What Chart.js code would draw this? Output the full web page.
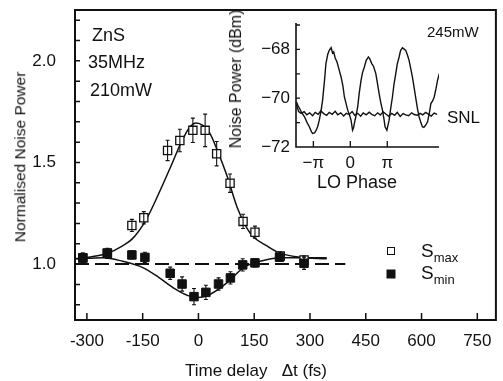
<!DOCTYPE html>
<html>
<head>
<meta charset="utf-8">
<script src="https://cdn.jsdelivr.net/npm/chart.js@4.4.1/dist/chart.umd.min.js"></script>
<style>
  html, body { margin: 0; padding: 0; background: #fff; }
  #wrap { position: relative; width: 503px; height: 381px; overflow: hidden;
          font-family: "Liberation Sans", Arial, sans-serif; color: #111; }
  #main { position: absolute; left: 0; top: 0; }
  #inset { position: absolute; left: 226px; top: 0; }
  .t { position: absolute; white-space: nowrap; line-height: 1; }
  .c { transform: translate(-50%, -50%); }
  .l { transform: translate(0, -50%); }
  .r { transform: translate(-50%, -50%) rotate(-90deg); }
  .sq { position: absolute; box-sizing: border-box; transform: translate(-50%, -50%); }
  sub { font-size: 13px; vertical-align: -5px; }
</style>
</head>
<body>
<div id="wrap">
  <canvas id="main" width="503" height="381"></canvas>
  <canvas id="inset" width="277" height="200"></canvas>

  <div class="t l" style="left:92px; top:35px; font-size:18px;">ZnS</div>
  <div class="t l" style="left:88px; top:62px; font-size:18px;">35MHz</div>
  <div class="t l" style="left:90px; top:90px; font-size:18px;">210mW</div>

  <div class="t l" style="left:427px; top:31px; font-size:15px;">245mW</div>
  <div class="t l" style="left:447px; top:117px; font-size:17px;">SNL</div>
  <div class="t r" style="left:236px; top:79px; font-size:16px;">Noise Power (dBm)</div>
  <div class="t c" style="left:357px; top:182px; font-size:18px;">LO Phase</div>

  <div class="t r" style="left:20px; top:157px; font-size:15.5px;">Normalised Noise Power</div>
  <div class="t c" style="left:256px; top:370px; font-size:17px;">Time delay&nbsp;&nbsp; Δt (fs)</div>

  <div class="sq" style="left:391px; top:251px; width:8px; height:8px; border:1.3px solid #111;"></div>
  <div class="sq" style="left:391px; top:274px; width:9px; height:9px; background:#111;"></div>
  <div class="t l" style="left:421px; top:252px; font-size:19px;">S<sub>max</sub></div>
  <div class="t l" style="left:421px; top:274px; font-size:19px;">S<sub>min</sub></div>
</div>

<script>
// main plot: axis ticks
const xTicks = [-300, -150, 0, 150, 300, 450, 600, 750];
const yTicks = [1.0, 1.5, 2.0];
const yMinorTicks = [0.8, 0.9, 1.0, 1.1, 1.2, 1.3, 1.4, 1.5, 1.6, 1.7, 1.8, 1.9, 2.0, 2.1, 2.2];

// S_max (open squares)
const smaxDelay = [-311, -245, -179, -147, -83, -50, -15, 18, 49, 85, 120, 152, 220, 284];
const smaxValue = [1.03, 1.055, 1.19, 1.228, 1.559, 1.608, 1.658, 1.658, 1.543, 1.398, 1.21, 1.157, 1.04, 1.02];
const smaxError = [0.02, 0.02, 0.03, 0.03, 0.05, 0.055, 0.06, 0.08, 0.06, 0.045, 0.035, 0.03, 0.02, 0.02];

// S_min (filled squares)
const sminDelay = [-311, -245, -179, -144, -76, -44, -12, 20, 54, 86, 119, 152, 218, 284];
const sminValue = [1.031, 1.053, 1.045, 1.033, 0.955, 0.902, 0.84, 0.861, 0.902, 0.932, 0.996, 1.006, 1.034, 1.004];
const sminError = [0.025, 0.025, 0.02, 0.025, 0.03, 0.035, 0.04, 0.035, 0.03, 0.03, 0.03, 0.02, 0.02, 0.03];

// fitted curves
const smaxFitDelay = [-332, -290, -245, -204, -178, -142, -107, -72, -46, -23, -6, 12, 29, 51, 78, 104, 140, 183, 218, 271, 345];
const smaxFitValue = [1.026, 1.035, 1.053, 1.09, 1.124, 1.214, 1.346, 1.49, 1.6, 1.674, 1.694, 1.682, 1.649, 1.559, 1.428, 1.28, 1.15, 1.091, 1.055, 1.034, 1.026];
const sminFitDelay = [-332, -257, -204, -151, -107, -63, -28, -2, 33, 78, 122, 166, 227, 345];
const sminFitValue = [1.026, 1.031, 1.014, 0.984, 0.935, 0.878, 0.845, 0.836, 0.853, 0.91, 0.984, 1.014, 1.031, 1.031];

// reference level
const refDelay = [-332, 395];
const refValue = [1.0, 1.0];

// inset: LO phase in units of pi, noise power in dBm
const insetXTicks = [-1, 0, 1];
const insetXLabels = ["\u2212\u03c0", "0", "\u03c0"];
const insetYTicks = [-72, -70, -68];
const insetYLabels = ["\u221272", "\u221270", "\u221268"];
const insetYMinor = [-71, -70, -69, -68, -67];

const tracePhase = [-1.46, -1.42, -1.33, -1.24, -1.17, -1.11, -1.05, -1.02, -0.97, -0.93, -0.88, -0.84, -0.79, -0.75, -0.70, -0.66, -0.61, -0.57, -0.52, -0.48, -0.45, -0.41, -0.36, -0.31, -0.25, -0.20, -0.16, -0.11, -0.07, -0.02, 0.02, 0.06, 0.09, 0.11, 0.15, 0.20, 0.24, 0.29, 0.33, 0.38, 0.43, 0.49, 0.53, 0.58, 0.63, 0.69, 0.73, 0.78, 0.82, 0.87, 0.91, 0.94, 0.99, 1.02, 1.05, 1.09, 1.14, 1.18, 1.23, 1.27, 1.32, 1.36, 1.41, 1.45, 1.50, 1.55, 1.59, 1.63, 1.68, 1.73, 1.78, 1.82, 1.86, 1.91, 1.95, 1.99, 2.02, 2.06, 2.09, 2.14, 2.18, 2.23, 2.27, 2.32, 2.36, 2.41];
const tracePower = [-70.15, -70.29, -70.55, -70.76, -71.0, -71.17, -71.38, -71.44, -71.42, -71.33, -71.15, -70.9, -70.5, -70.08, -69.3, -68.58, -68.2, -68.04, -67.93, -68.15, -68.1, -68.35, -68.52, -68.8, -69.13, -69.5, -69.95, -70.25, -70.49, -70.7, -70.9, -71.31, -71.2, -71.03, -70.75, -70.36, -69.8, -69.27, -68.95, -68.72, -68.45, -68.31, -68.4, -68.58, -68.7, -68.99, -69.35, -69.81, -70.15, -70.49, -70.85, -71.17, -71.31, -71.1, -70.9, -70.45, -69.95, -69.45, -68.99, -68.6, -68.31, -68.05, -67.93, -67.98, -68.04, -68.25, -68.45, -68.75, -69.13, -69.6, -70.08, -70.45, -70.76, -71.0, -71.17, -71.2, -71.14, -71.05, -70.97, -70.6, -70.22, -70.1, -69.95, -69.6, -69.27, -68.99];

const snlPhase = [-1.46, -1.40, -1.33, -1.25, -1.18, -1.10, -1.02, -0.95, -0.87, -0.80, -0.72, -0.64, -0.57, -0.49, -0.41, -0.34, -0.26, -0.18, -0.11, -0.03, 0.05, 0.12, 0.20, 0.28, 0.35, 0.43, 0.51, 0.58, 0.66, 0.74, 0.81, 0.89, 0.97, 1.04, 1.12, 1.20, 1.27, 1.35, 1.43, 1.50, 1.58, 1.66, 1.73, 1.81, 1.89, 1.96, 2.04, 2.12, 2.19, 2.27, 2.35];
const snlPower = [-70.25, -70.55, -70.62, -70.55, -70.68, -70.6, -70.72, -70.58, -70.66, -70.52, -70.63, -70.7, -70.58, -70.66, -70.54, -70.68, -70.6, -70.73, -70.62, -70.67, -70.55, -70.7, -70.62, -70.74, -70.6, -70.68, -70.57, -70.66, -70.72, -70.6, -70.69, -70.56, -70.66, -70.74, -70.62, -70.7, -70.58, -70.75, -70.63, -70.68, -70.72, -70.6, -70.67, -70.7, -70.62, -70.68, -70.58, -70.66, -70.73, -70.61, -70.66];

const INK = "#111";
const FONT = "'Liberation Sans', Arial, sans-serif";

const pts = (xs, ys) => xs.map((x, i) => ({ x: x, y: ys[i] }));

// --------------------
// MAIN PLOT
// --------------------
const mainDecor = {
  id: "mainDecor",
  afterDatasetsDraw(chart) {
    const { ctx, chartArea: a, scales: { x, y } } = chart;
    ctx.save();
    ctx.strokeStyle = INK;

    // error bars
    ctx.lineWidth = 1.1;
    const bars = (xs, ys, es) => xs.forEach((v, i) => {
      if (!es[i]) return;
      const px = x.getPixelForValue(v);
      const top = y.getPixelForValue(ys[i] + es[i]);
      const bot = y.getPixelForValue(ys[i] - es[i]);
      ctx.beginPath();
      ctx.moveTo(px, top); ctx.lineTo(px, bot);
      ctx.moveTo(px - 2, top); ctx.lineTo(px + 2, top);
      ctx.moveTo(px - 2, bot); ctx.lineTo(px + 2, bot);
      ctx.stroke();
    });
    bars(smaxDelay, smaxValue, smaxError);
    bars(sminDelay, sminValue, sminError);

    // frame
    ctx.lineWidth = 2;
    ctx.strokeRect(a.left, a.top, a.right - a.left, a.bottom - a.top);

    // inward ticks
    ctx.lineWidth = 1.5;
    ctx.beginPath();
    yMinorTicks.forEach(v => {
      const py = y.getPixelForValue(v);
      ctx.moveTo(a.left, py); ctx.lineTo(a.left + 5, py);
    });
    xTicks.forEach(v => {
      const px = x.getPixelForValue(v);
      ctx.moveTo(px, a.bottom); ctx.lineTo(px, a.bottom - 7);
    });
    ctx.stroke();
    ctx.restore();
  }
};

new Chart(document.getElementById("main"), {
  type: "scatter",
  data: {
    datasets: [
      {
        label: "S_min",
        data: pts(sminDelay, sminValue),
        pointStyle: "rect",
        pointRadius: 6,
        backgroundColor: INK,
        borderColor: INK,
        borderWidth: 1
      },
      {
        label: "S_max",
        data: pts(smaxDelay, smaxValue),
        pointStyle: "rect",
        pointRadius: 5.8,
        backgroundColor: "#fff",
        borderColor: INK,
        borderWidth: 1.3
      },
      {
        label: "S_min fit",
        data: pts(sminFitDelay, sminFitValue),
        showLine: true,
        pointRadius: 0,
        borderColor: INK,
        borderWidth: 1.5,
        cubicInterpolationMode: "monotone"
      },
      {
        label: "S_max fit",
        data: pts(smaxFitDelay, smaxFitValue),
        showLine: true,
        pointRadius: 0,
        borderColor: INK,
        borderWidth: 1.5,
        cubicInterpolationMode: "monotone"
      },
      {
        label: "level 1",
        data: pts(refDelay, refValue),
        showLine: true,
        pointRadius: 0,
        borderColor: INK,
        borderWidth: 2,
        borderDash: [14, 6]
      }
    ]
  },
  options: {
    responsive: false,
    animation: false,
    layout: { padding: { left: 0, right: 1, top: 10, bottom: 0 } },
    plugins: { legend: { display: false }, tooltip: { enabled: false } },
    scales: {
      x: {
        type: "linear",
        min: -332,
        max: 800,
        afterBuildTicks: axis => { axis.ticks = xTicks.map(v => ({ value: v })); },
        afterFit: axis => { axis.height = 61; axis.paddingLeft = 0; axis.paddingRight = 0; },
        grid: { display: false, drawTicks: false },
        border: { display: false },
        ticks: {
          autoSkip: false,
          maxRotation: 0,
          padding: 11,
          color: INK,
          font: { family: FONT, size: 17 }
        }
      },
      y: {
        type: "linear",
        min: 0.725,
        max: 2.25,
        afterBuildTicks: axis => { axis.ticks = yTicks.map(v => ({ value: v })); },
        afterFit: axis => { axis.width = 75; axis.paddingTop = 0; axis.paddingBottom = 0; },
        grid: { display: false, drawTicks: false },
        border: { display: false },
        ticks: {
          padding: 19,
          color: INK,
          font: { family: FONT, size: 17 },
          callback: v => v.toFixed(1)
        }
      }
    }
  },
  plugins: [mainDecor]
});

// --------------------
// INSET
// --------------------
const insetDecor = {
  id: "insetDecor",
  afterDatasetsDraw(chart) {
    const { ctx, chartArea: a, scales: { x, y } } = chart;
    ctx.save();
    ctx.strokeStyle = INK;
    ctx.lineWidth = 1.6;
    ctx.beginPath();
    ctx.moveTo(a.left, a.top - 2);
    ctx.lineTo(a.left, a.bottom);
    ctx.lineTo(a.right, a.bottom);
    ctx.stroke();

    ctx.lineWidth = 1.3;
    ctx.beginPath();
    insetYMinor.forEach(v => {
      const py = y.getPixelForValue(v);
      ctx.moveTo(a.left, py); ctx.lineTo(a.left + 4, py);
    });
    insetXTicks.forEach(v => {
      const px = x.getPixelForValue(v);
      ctx.moveTo(px, a.bottom); ctx.lineTo(px, a.bottom - 6);
    });
    ctx.stroke();
    ctx.restore();
  }
};

new Chart(document.getElementById("inset"), {
  type: "scatter",
  data: {
    datasets: [
      {
        label: "245mW",
        data: pts(tracePhase, tracePower),
        showLine: true,
        pointRadius: 0,
        borderColor: INK,
        borderWidth: 1.4
      },
      {
        label: "SNL",
        data: pts(snlPhase, snlPower),
        showLine: true,
        pointRadius: 0,
        borderColor: INK,
        borderWidth: 1.4
      }
    ]
  },
  options: {
    responsive: false,
    animation: false,
    layout: { padding: { left: 0, right: 64, top: 25, bottom: 0 } },
    plugins: { legend: { display: false }, tooltip: { enabled: false } },
    scales: {
      x: {
        type: "linear",
        min: -1.47,
        max: 2.4,
        afterBuildTicks: axis => { axis.ticks = insetXTicks.map(v => ({ value: v })); },
        afterFit: axis => { axis.height = 53; axis.paddingLeft = 0; axis.paddingRight = 0; },
        grid: { display: false, drawTicks: false },
        border: { display: false },
        ticks: {
          autoSkip: false,
          maxRotation: 0,
          padding: 6,
          color: INK,
          font: { family: FONT, size: 17 },
          callback: v => insetXLabels[insetXTicks.indexOf(v)]
        }
      },
      y: {
        type: "linear",
        min: -72,
        max: -67,
        afterBuildTicks: axis => { axis.ticks = insetYTicks.map(v => ({ value: v })); },
        afterFit: axis => { axis.width = 70; axis.paddingTop = 0; axis.paddingBottom = 0; },
        grid: { display: false, drawTicks: false },
        border: { display: false },
        ticks: {
          padding: 6,
          color: INK,
          font: { family: FONT, size: 17 },
          callback: v => insetYLabels[insetYTicks.indexOf(v)]
        }
      }
    }
  },
  plugins: [insetDecor]
});
</script>
</body>
</html>
